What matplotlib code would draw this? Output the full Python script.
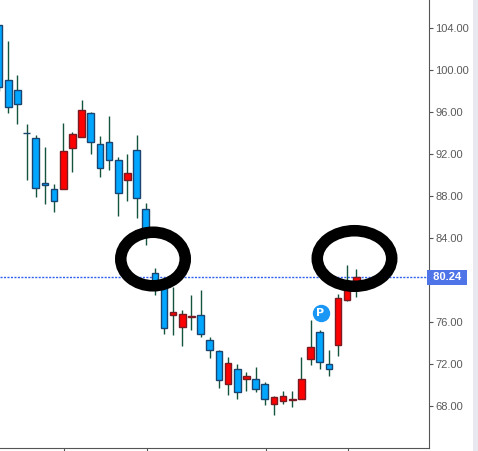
import matplotlib
matplotlib.use("Agg")
import matplotlib.pyplot as plt
from matplotlib.patches import Ellipse, Rectangle

W, H = 478, 451

# high, body top, body bottom, low (price)
highs = [104.29, 102.76, 99.52, 94.86, 93.81, 92.67, 89.14, 94.95, 94.10, 97.14,
         96.00, 93.71, 95.62, 91.71, 92.00, 93.81, 87.33, 81.11, 80.19, 79.36,
         77.14, 78.57, 79.05, 74.57, 73.33, 72.64, 72.00, 71.24, 71.71, 70.26,
         68.95, 69.40, 69.40, 72.67, 76.19, 75.21, 73.33, 78.67, 81.43, 81.02]
tops = [104.29, 99.02, 98.07, 93.97, 93.50, 89.21, 88.64, 92.26, 93.88, 96.16,
        95.88, 92.92, 93.11, 91.40, 90.16, 92.35, 86.73, 80.64, 79.52, 76.92,
        76.73, 76.60, 76.64, 74.26, 73.21, 72.07, 71.50, 70.83, 70.54, 70.07,
        68.83, 68.92, 68.64, 70.54, 73.59, 75.02, 71.97, 78.26, 79.24, 80.31]
bottoms = [98.38, 96.45, 96.73, 93.97, 88.73, 89.02, 87.50, 88.64, 92.54, 93.59,
           93.11, 90.64, 91.40, 88.26, 89.50, 87.78, 84.95, 79.52, 75.40, 76.70,
           75.55, 76.50, 74.89, 73.30, 70.45, 70.07, 69.30, 70.60, 69.59, 68.64,
           68.16, 68.45, 68.54, 68.64, 72.45, 72.16, 71.50, 73.78, 78.12, 79.52]
lows = [98.00, 95.93, 94.89, 89.55, 87.93, 87.27, 86.50, 88.64, 90.31, 93.59,
        92.03, 89.84, 90.50, 86.12, 87.55, 85.93, 83.36, 78.57, 74.89, 74.79,
        73.74, 75.27, 74.60, 72.60, 69.74, 69.08, 68.70, 69.46, 69.36, 68.12,
        67.17, 68.22, 67.93, 68.64, 71.93, 71.55, 70.89, 72.79, 78.03, 78.41]
up = [0, 0, 0, 0, 0, 0, 0, 1, 1, 1,
      0, 0, 0, 0, 1, 0, 0, 0, 0, 1,
      1, 1, 0, 0, 0, 1, 0, 1, 0, 0,
      1, 1, 1, 1, 1, 0, 0, 1, 1, 1]

# 80.00 sits under the price box in the original, so it is left out
y_ticks = [68, 72, 76, 84, 88, 92, 96, 100, 104]
x_ticks = [7.1, 16.1, 29.1, 38.1]
last_price = 80.24

fig = plt.figure(figsize=(W / 100, H / 100), dpi=100)
ax = fig.add_axes([0, 3 / H, 428.5 / W, 448 / H])
ax.set_xlim(0.093, 46.88)
ax.set_ylim(64.0, 106.67)

for i in range(len(up)):
    ax.plot([i, i], [lows[i], highs[i]], color="#14533c", lw=1.0, zorder=2,
            solid_capstyle="butt")
    if up[i]:
        face, edge = "#ff0000", "#7a1a22"
    else:
        face, edge = "#00a6ff", "#1c4470"
    ax.add_patch(Rectangle((i - 0.36, bottoms[i]), 0.72, tops[i] - bottoms[i],
                           facecolor=face, edgecolor=edge, lw=1.0, zorder=3))

ax.axhline(last_price, color="#2f62f0", lw=1.0, ls=(0, (1.5, 1)), zorder=1)

# P marker above candle
ax.plot([35.09], [76.86], "o", ms=11.5, color="#1a96f5", mec="#1a96f5", zorder=5)
ax.text(35.09, 76.86, "P", color="white", fontsize=8, fontweight="bold",
        ha="center", va="center", zorder=6)

# hand drawn rings
ax.add_patch(Ellipse((16.8, 82.0), 7.04, 5.1, fill=False, ec="black", lw=8.3, zorder=8))
ax.add_patch(Ellipse((38.8, 82.05), 8.13, 5.29, fill=False, ec="black", lw=8.3, zorder=8))

ax.yaxis.tick_right()
ax.set_yticks(y_ticks)
ax.set_yticklabels(["%.2f" % v for v in y_ticks], fontsize=8.0, color="#5a5a5a",
                   family="Liberation Sans")
ax.set_xticks(x_ticks)
ax.set_xticklabels([])
ax.tick_params(axis="y", length=3, width=0.8, color="#555555", pad=2)
ax.tick_params(axis="x", length=3, width=0.8, color="#555555")
ax.spines["top"].set_visible(False)
ax.spines["left"].set_visible(False)
ax.spines["right"].set_color("#555555")
ax.spines["bottom"].set_color("#555555")

# current price box on the scale
ax.text(1.004, last_price, " 80.24 ", transform=ax.get_yaxis_transform(), color="white",
        fontsize=8.0, fontweight="bold", family="Liberation Sans", va="center", ha="left",
        bbox=dict(boxstyle="square,pad=0.25", fc="#4f74e8", ec="none"), zorder=9, clip_on=False)

# grey strip at the right edge of the window
fig.add_artist(Rectangle((473 / W, 0), 5 / W, 1, transform=fig.transFigure,
                         facecolor="#e8e9f0", edgecolor="none"))

fig.savefig("out.png", dpi=100)
